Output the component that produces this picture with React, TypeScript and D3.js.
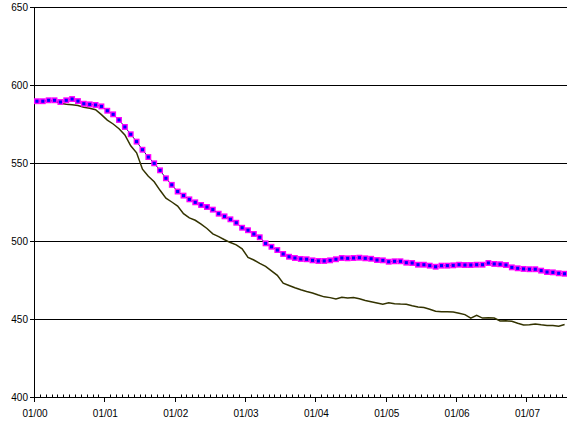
import React, { useEffect, useRef } from "react";
import * as d3 from "d3";

const WIDTH = 567;
const HEIGHT = 423;

const yearLabels = ["01/00", "01/01", "01/02", "01/03", "01/04", "01/05", "01/06", "01/07"];
const yTicks = [400, 450, 500, 550, 600, 650];
const monthCount = 91;

const seriesMarked = [
  589.6, 589.6, 590.2, 590.2, 589.1, 590.2, 591.0, 589.7, 588.0, 587.6,
  587.2, 586.3, 583.5, 581.2, 577.6, 573.1, 568.4, 563.7, 558.5, 553.8,
  549.8, 545.3, 540.2, 536.0, 531.7, 529.1, 526.7, 524.8, 523.1, 521.8,
  520.1, 517.5, 515.8, 513.9, 511.7, 508.5, 506.9, 504.5, 502.4, 498.5,
  496.3, 494.2, 491.7, 489.9, 489.1, 488.5, 488.3, 487.6, 487.2, 487.2,
  487.6, 488.3, 489.1, 488.9, 489.1, 489.3, 488.9, 488.6, 487.8, 487.6,
  486.7, 487.0, 487.0, 486.1, 485.9, 484.8, 484.8, 484.2, 483.5, 484.2,
  484.2, 484.4, 484.8, 484.6, 484.6, 484.8, 484.8, 485.9, 485.3, 485.1,
  484.6, 483.1, 482.5, 482.1, 481.9, 481.9, 481.0, 480.1, 479.9, 479.3,
  479.0,
];

const seriesDark = [
  589.6, 589.6, 590.0, 589.5, 588.3, 587.6, 587.3, 586.8, 585.8, 585.1,
  584.2, 581.0, 577.5, 575.0, 572.0, 568.0, 561.0, 556.5, 546.0, 541.5,
  538.0, 532.5, 527.5, 525.0, 522.4, 517.5, 514.8, 513.3, 510.8, 508.0,
  504.6, 502.8, 500.8, 499.0, 497.5, 495.0, 489.5, 487.8, 485.6, 483.7,
  480.8, 478.0, 473.0, 471.5, 470.0, 468.7, 467.6, 466.7, 465.4, 464.2,
  463.7, 462.8, 463.9, 463.4, 463.8, 463.0, 461.9, 461.1, 460.3, 459.5,
  460.4, 459.8, 459.6, 459.5, 458.5, 457.7, 457.3, 456.3, 455.0, 454.6,
  454.7, 454.5, 453.7, 452.8, 450.5, 452.4, 450.6, 450.8, 450.6, 448.7,
  448.9, 448.5, 447.3, 446.2, 446.3, 446.8, 446.3, 445.9, 445.9, 445.3,
  446.5,
];

export default function App() {
  const ref = useRef<SVGSVGElement | null>(null);

  useEffect(() => {
    const svg = d3.select(ref.current);
    svg.selectAll("*").remove();

    const x = d3.scaleLinear().domain([0, monthCount]).range([34, 34 + monthCount * 5.863]);
    const y = d3.scaleLinear().domain([400, 650]).range([397, 7]);
    const font = "'Liberation Sans', Arial, sans-serif";

    svg.append("rect").attr("x", 0).attr("y", 0).attr("width", WIDTH).attr("height", HEIGHT).attr("fill", "#fff");

    // gridlines
    svg
      .append("g")
      .selectAll("line")
      .data(yTicks.filter((t) => t > 400))
      .join("line")
      .attr("x1", 34)
      .attr("x2", WIDTH)
      .attr("y1", (d) => Math.round(y(d)) + 0.5)
      .attr("y2", (d) => Math.round(y(d)) + 0.5)
      .attr("stroke", "#000")
      .attr("stroke-width", 1);

    // y axis
    svg
      .append("line")
      .attr("x1", 34.5)
      .attr("x2", 34.5)
      .attr("y1", y(650))
      .attr("y2", y(400) + 1)
      .attr("stroke", "#000");
    const yg = svg.append("g");
    yg.selectAll("line")
      .data(yTicks)
      .join("line")
      .attr("x1", 30)
      .attr("x2", 34.5)
      .attr("y1", (d) => Math.round(y(d)) + 0.5)
      .attr("y2", (d) => Math.round(y(d)) + 0.5)
      .attr("stroke", "#000");
    yg.selectAll("text")
      .data(yTicks)
      .join("text")
      .attr("x", 28)
      .attr("y", (d) => y(d) + 3.5)
      .attr("text-anchor", "end")
      .attr("font-family", font)
      .attr("font-size", 10)
      .attr("fill", "#000")
      .text((d) => String(d));

    // x axis
    svg
      .append("line")
      .attr("x1", 34)
      .attr("x2", WIDTH)
      .attr("y1", 397.5)
      .attr("y2", 397.5)
      .attr("stroke", "#000");
    const months = d3.range(1, monthCount + 1).filter((m) => m % 12 !== 0);
    svg
      .append("g")
      .selectAll("line")
      .data(months)
      .join("line")
      .attr("x1", (d) => Math.round(x(d)) + 0.5)
      .attr("x2", (d) => Math.round(x(d)) + 0.5)
      .attr("y1", 394.5)
      .attr("y2", 397.5)
      .attr("stroke", "#000");
    const years = yearLabels.map((_, i) => i * 12);
    svg
      .append("g")
      .selectAll("line")
      .data(years)
      .join("line")
      .attr("x1", (d) => Math.round(x(d)) + 0.5)
      .attr("x2", (d) => Math.round(x(d)) + 0.5)
      .attr("y1", 397)
      .attr("y2", 402)
      .attr("stroke", "#000");
    svg
      .append("g")
      .selectAll("text")
      .data(yearLabels)
      .join("text")
      .attr("x", (_, i) => x(i * 12) + 1)
      .attr("y", 416.5)
      .attr("text-anchor", "middle")
      .attr("font-family", font)
      .attr("font-size", 10)
      .attr("fill", "#000")
      .text((d) => d);

    // dark line
    const line = d3
      .line<number>()
      .x((_, i) => x(i + 0.5))
      .y((d) => y(d));
    svg
      .append("path")
      .datum(seriesDark)
      .attr("d", line)
      .attr("fill", "none")
      .attr("stroke", "#333300")
      .attr("stroke-width", 1.5);

    // marked series
    svg
      .append("path")
      .datum(seriesMarked)
      .attr("d", line)
      .attr("fill", "none")
      .attr("stroke", "#1a1a66")
      .attr("stroke-width", 1);
    svg
      .append("g")
      .selectAll("rect")
      .data(seriesMarked)
      .join("rect")
      .attr("x", (_, i) => x(i + 0.5) - 2.25)
      .attr("y", (d) => y(d) - 2.25)
      .attr("width", 4.5)
      .attr("height", 4.5)
      .attr("fill", "#0000ff")
      .attr("stroke", "#ff00ff")
      .attr("stroke-width", 1.4);
  }, []);

  return (
    <div style={{ position: "absolute", left: 0, top: 0 }}>
      <svg ref={ref} width={WIDTH} height={HEIGHT} style={{ display: "block" }} />
    </div>
  );
}
